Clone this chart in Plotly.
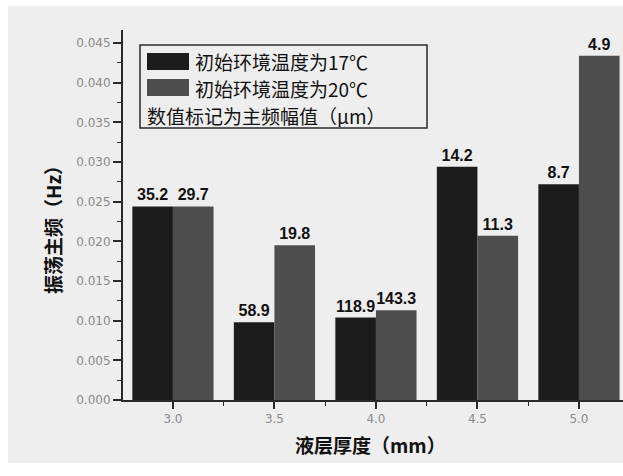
import plotly.graph_objects as go

# Liquid layer thickness (mm) and dominant oscillation frequency (Hz)
thickness = [3.0, 3.5, 4.0, 4.5, 5.0]
freq_17 = [0.0244, 0.0098, 0.0104, 0.0294, 0.0272]
freq_20 = [0.0244, 0.0195, 0.0113, 0.0207, 0.0434]
# Dominant-frequency amplitude (μm) written above each bar
amp_17 = ["35.2", "58.9", "118.9", "14.2", "8.7"]
amp_20 = ["29.7", "19.8", "143.3", "11.3", "4.9"]

series_names = ["初始环境温度为17℃", "初始环境温度为20℃"]
note_text = "数值标记为主频幅值（μm）"

DARK = "#1c1c1c"
GREY = "#4e4e4e"
AXIS = "#2a2a2a"
BG = "#eeeeee"
CJK = "Noto Sans CJK SC"

fig = go.Figure()
for name, vals, amps, color in [
    (series_names[0], freq_17, amp_17, DARK),
    (series_names[1], freq_20, amp_20, GREY),
]:
    fig.add_trace(go.Bar(
        x=thickness, y=vals, name=name, text=amps,
        textposition="outside", constraintext="none", cliponaxis=False,
        textfont=dict(family="Liberation Sans", size=16, color="#111111", weight="bold"),
        marker=dict(color=color, line=dict(width=0)),
        showlegend=False,
    ))

# plot area in pixels: x 123..623, y 30..400
def px_x(p):
    return (p - 123) / 500.0

def px_y(p):
    return (400 - p) / 370.0

shapes = [
    # photo-like grey backdrop
    dict(type="rect", xref="paper", yref="paper", layer="below",
         x0=px_x(8), x1=px_x(623), y0=px_y(463), y1=px_y(6),
         fillcolor=BG, line=dict(width=0)),
    # legend frame
    dict(type="rect", xref="paper", yref="paper",
         x0=px_x(140), x1=px_x(427), y0=px_y(128), y1=px_y(45),
         fillcolor=BG, line=dict(color=AXIS, width=1.5)),
    # legend swatches
    dict(type="rect", xref="paper", yref="paper",
         x0=px_x(147), x1=px_x(189), y0=px_y(70), y1=px_y(53),
         fillcolor=DARK, line=dict(width=0)),
    dict(type="rect", xref="paper", yref="paper",
         x0=px_x(147), x1=px_x(189), y0=px_y(96), y1=px_y(79),
         fillcolor=GREY, line=dict(width=0)),
]

legend_font = dict(family=CJK, size=19, color="#111111")
annotations = [
    dict(text=series_names[0], xref="paper", yref="paper", x=px_x(194), y=px_y(61),
         xanchor="left", yanchor="middle", showarrow=False, font=legend_font,
         borderpad=0, height=24),
    dict(text=series_names[1], xref="paper", yref="paper", x=px_x(194), y=px_y(88),
         xanchor="left", yanchor="middle", showarrow=False, font=legend_font,
         borderpad=0, height=24),
    dict(text=note_text, xref="paper", yref="paper", x=px_x(146), y=px_y(115),
         xanchor="left", yanchor="middle", showarrow=False, font=legend_font,
         borderpad=0, height=24),
    # axis titles
    dict(text="<b>振荡主频（Hz）</b>", xref="paper", yref="paper", x=px_x(53), y=px_y(225),
         xanchor="center", yanchor="middle", textangle=-90, showarrow=False,
         font=dict(family=CJK, size=19, color="#111111")),
    dict(text="<b>液层厚度（mm）</b>", xref="paper", yref="paper", x=px_x(370), y=px_y(444),
         xanchor="center", yanchor="middle", showarrow=False,
         font=dict(family=CJK, size=19, color="#111111")),
]

tick_font = dict(family="DejaVu Sans", size=12, color="#8a8a8a")

fig.update_layout(
    width=623, height=476,
    margin=dict(l=123, r=0, t=30, b=76),
    paper_bgcolor="#ffffff",
    plot_bgcolor="rgba(0,0,0,0)",
    barmode="group", bargap=0.2, bargroupgap=0.0,
    shapes=shapes, annotations=annotations,
    xaxis=dict(
        range=[2.754, 5.217], tickmode="linear", tick0=3.0, dtick=0.5,
        tickformat=".1f", showgrid=False, zeroline=False,
        showline=True, linecolor=AXIS, linewidth=2,
        ticks="outside", ticklen=7, tickwidth=1.5, tickcolor=AXIS,
        tickfont=tick_font,
        minor=dict(tick0=2.75, dtick=0.25, ticks="outside", ticklen=4,
                   tickwidth=1.2, tickcolor=AXIS, showgrid=False),
    ),
    yaxis=dict(
        range=[0, 0.04664], tickmode="linear", tick0=0, dtick=0.005,
        tickformat=".3f", showgrid=False, zeroline=False,
        showline=True, linecolor=AXIS, linewidth=2,
        ticks="outside", ticklen=8, tickwidth=1.5, tickcolor=AXIS,
        tickfont=tick_font,
        minor=dict(tick0=0, dtick=0.0025, ticks="outside", ticklen=4,
                   tickwidth=1.2, tickcolor=AXIS, showgrid=False),
    ),
)

fig.write_html("out.html")
